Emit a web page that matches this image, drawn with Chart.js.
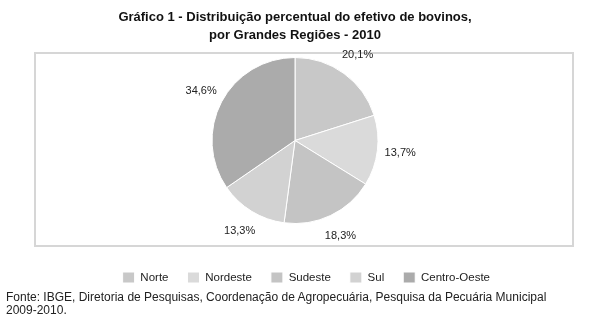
<!DOCTYPE html>
<html>
<head>
<meta charset="utf-8">
<script src="https://cdn.jsdelivr.net/npm/chart.js@4/dist/chart.umd.min.js"></script>
<style>
  body { margin: 0; background: #fff; }
  #wrap { position: relative; width: 590px; height: 327px; }
  #frame { position: absolute; left: 34px; top: 52px; width: 540px; height: 195px;
           box-sizing: border-box; border: 2px solid #d6d6d6; }
  #chart { position: absolute; left: 0; top: 0; }
  #fonte { position: absolute; left: 6px; top: 291px; font: 12px 'Liberation Sans', Arial, sans-serif;
           line-height: 13px; color: #222; }
</style>
</head>
<body>
<div id="wrap">
  <div id="frame"></div>
  <canvas id="chart" width="590" height="327"></canvas>
  <div id="fonte">Fonte: IBGE, Diretoria de Pesquisas, Coordenação de Agropecuária, Pesquisa da Pecuária Municipal<br>2009-2010.</div>
</div>
<script>
const regioes = ['Norte', 'Nordeste', 'Sudeste', 'Sul', 'Centro-Oeste'];
const percentuais = [20.1, 13.7, 18.3, 13.3, 34.6];
const cores = ['#c8c8c8', '#dadada', '#c4c4c4', '#d2d2d2', '#ababab'];
const titulo = ['Gráfico 1 - Distribuição percentual do efetivo de bovinos,', 'por Grandes Regiões - 2010'];

// rótulos de porcentagem fora das fatias
const rotulos = {
  id: 'rotulos',
  afterDatasetsDraw(chart) {
    const ctx = chart.ctx;
    const meta = chart.getDatasetMeta(0);
    ctx.save();
    ctx.font = '11px "Liberation Sans", Arial, sans-serif';
    ctx.fillStyle = '#222';
    ctx.textAlign = 'center';
    ctx.textBaseline = 'middle';
    meta.data.forEach((arc, i) => {
      const p = arc.getProps(['x', 'y', 'startAngle', 'endAngle', 'outerRadius'], true);
      const mid = (p.startAngle + p.endAngle) / 2;
      const r = p.outerRadius + 23;
      const txt = percentuais[i].toFixed(1).replace('.', ',') + '%';
      ctx.fillText(txt, p.x + Math.cos(mid) * r, p.y + Math.sin(mid) * r);
    });
    ctx.restore();
  }
};

new Chart(document.getElementById('chart'), {
  type: 'pie',
  data: {
    labels: regioes,
    datasets: [{
      data: percentuais,
      backgroundColor: cores,
      borderColor: '#fff',
      borderWidth: 1,
      radius: 83
    }]
  },
  options: {
    responsive: false,
    animation: false,
    layout: { padding: { top: 0, bottom: 33.75, left: 81, right: 81 } },
    plugins: {
      title: {
        display: true,
        text: titulo,
        color: '#111',
        font: { family: '"Liberation Sans", Arial, sans-serif', size: 13, weight: 'bold', lineHeight: 1.385 },
        padding: { top: 8, bottom: -15.75 }
      },
      legend: {
        position: 'bottom',
        align: 'end',
        labels: {
          color: '#222',
          font: { family: '"Liberation Sans", Arial, sans-serif', size: 11.5 },
          boxWidth: 12,
          boxHeight: 11,
          padding: 19
        }
      },
      tooltip: { enabled: false }
    }
  },
  plugins: [rotulos]
});
</script>
</body>
</html>
